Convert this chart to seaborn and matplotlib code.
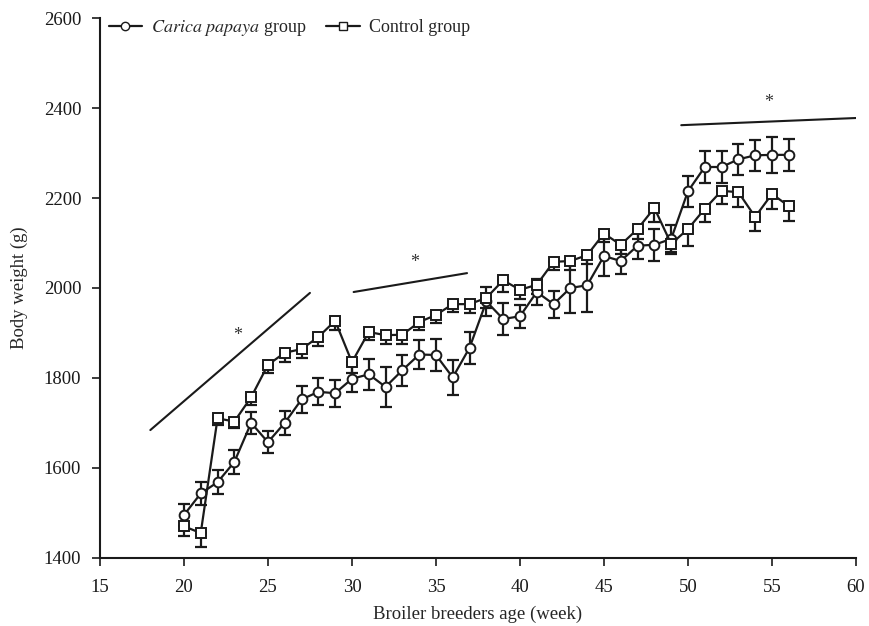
import numpy as np
import pandas as pd
import matplotlib
matplotlib.use('Agg')
import matplotlib.pyplot as plt
import seaborn as sns
from matplotlib.lines import Line2D

# ─── DATA ─────────────────────────────────────────────
weeks = list(range(20, 57))

papaya_mean = [1495, 1543, 1568, 1613, 1700, 1657, 1700, 1752, 1769, 1766,
               1798, 1808, 1780, 1817, 1852, 1851, 1801, 1867, 1970, 1931,
               1937, 1991, 1964, 2000, 2006, 2071, 2060, 2094, 2096, 2109,
               2215, 2269, 2269, 2286, 2295, 2296, 2296]
papaya_se = [25, 25, 27, 27, 25, 25, 27, 30, 30, 30,
             30, 35, 45, 35, 32, 35, 38, 35, 32, 35,
             25, 30, 30, 55, 60, 45, 30, 30, 35, 30,
             35, 35, 35, 35, 35, 40, 35]

control_mean = [1470, 1455, 1710, 1703, 1757, 1829, 1856, 1864, 1891, 1927,
                1835, 1902, 1895, 1896, 1924, 1940, 1964, 1964, 1978, 2017,
                1996, 2007, 2058, 2060, 2073, 2121, 2096, 2131, 2178, 2098,
                2131, 2176, 2216, 2213, 2158, 2209, 2182]
# control error bars are drawn below the mean only
control_se = [22, 31, 15, 15, 18, 18, 20, 20, 20, 20,
              24, 18, 20, 20, 18, 18, 18, 20, 22, 25,
              20, 20, 18, 20, 20, 18, 20, 22, 31, 22,
              38, 29, 29, 33, 31, 33, 33]

# significance bars: (x0, y0, x1, y1), star position
sig_lines = [(18.0, 1684, 27.5, 1989), (30.1, 1991, 36.85, 2033), (49.6, 2362, 60.05, 2378)]
sig_stars = [(23.2, 1895), (33.75, 2057), (54.8, 2412)]

df = pd.DataFrame({
    'week': weeks * 2,
    'weight': papaya_mean + control_mean,
    'group': ['papaya'] * len(weeks) + ['control'] * len(weeks),
})

# ─── PLOT ─────────────────────────────────────────────
sns.set_style('ticks')
plt.rcParams['font.family'] = ['Liberation Serif', 'DejaVu Serif']
plt.rcParams['mathtext.fontset'] = 'stix'

ink = '#1a1a1a'
fig = plt.figure(figsize=(8.69, 6.26), dpi=100)
ax = fig.add_axes([0.115, 0.109, 0.87, 0.862])

ax.errorbar(weeks, papaya_mean, yerr=papaya_se, fmt='none', ecolor=ink,
            elinewidth=1.6, capsize=4.5, capthick=1.6, zorder=2)
ax.errorbar(weeks, control_mean, yerr=[control_se, [0] * len(weeks)], fmt='none',
            ecolor=ink, elinewidth=1.6, capsize=4.5, capthick=1.6, zorder=2)

sns.lineplot(data=df, x='week', y='weight', style='group', hue='group',
             palette={'papaya': ink, 'control': ink},
             markers={'papaya': 'o', 'control': 's'},
             dashes=False, markersize=7, markerfacecolor='white',
             markeredgecolor=ink, markeredgewidth=1.4,
             linewidth=1.6, ax=ax, legend=False, zorder=3)

for x0, y0, x1, y1 in sig_lines:
    ax.plot([x0, x1], [y0, y1], color=ink, linewidth=1.5)
for xs, ys in sig_stars:
    ax.text(xs, ys, '*', ha='center', va='center', fontsize=13, color='#333333')

handles = [
    Line2D([], [], color=ink, marker='o', markerfacecolor='white',
           markeredgecolor=ink, markersize=6, linewidth=1.6),
    Line2D([], [], color=ink, marker='s', markerfacecolor='white',
           markeredgecolor=ink, markersize=6, linewidth=1.6),
]
ax.legend(handles, [r'$\mathit{Carica\ papaya}$ group', 'Control group'],
          loc='upper left', ncol=2, frameon=False, fontsize=13,
          handlelength=1.85, columnspacing=1.1, handletextpad=0.5,
          bbox_to_anchor=(-0.01, 1.03))

ax.set_xlim(15, 60)
ax.set_ylim(1400, 2600)
ax.set_xticks(range(15, 61, 5))
ax.set_yticks(range(1400, 2601, 200))
ax.tick_params(direction='out', length=5.5, width=1.2, labelsize=13.5, colors=ink)
ax.tick_params(axis='x', pad=9.5)
ax.tick_params(axis='y', pad=8)
ax.set_xlabel('Broiler breeders age (week)', fontsize=13.5, labelpad=7)
ax.set_ylabel('Body weight (g)', fontsize=13.5, labelpad=11)
sns.despine(ax=ax)
for s in ['left', 'bottom']:
    ax.spines[s].set_linewidth(1.5)
    ax.spines[s].set_color(ink)

plt.savefig('out.png', dpi=100)
plt.close()
